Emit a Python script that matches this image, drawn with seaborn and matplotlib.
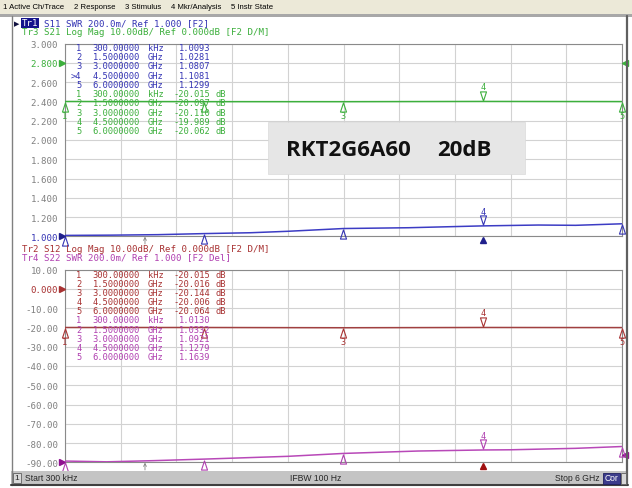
import numpy as np
import matplotlib
matplotlib.use("Agg")
import matplotlib.pyplot as plt
import seaborn as sns
from matplotlib.patches import Rectangle
from matplotlib.lines import Line2D
from matplotlib.path import Path
import matplotlib.transforms as mtransforms

# ---------------- data ----------------
s11_freq = [0.0003, 0.5, 1.0, 1.5, 2.0, 2.4, 3.0, 3.7, 4.5, 5.1, 5.5, 6.0]
s11_swr = [1.0093, 1.012, 1.017, 1.0281, 1.037, 1.052, 1.0807, 1.089, 1.1081, 1.117, 1.114, 1.1299]
s22_freq = [0.0003, 0.45, 0.95, 1.5, 2.4, 3.0, 3.8, 4.5, 4.8, 5.5, 6.0]
s22_swr = [1.0130, 1.005, 1.017, 1.0332, 1.062, 1.0921, 1.117, 1.1279, 1.13, 1.145, 1.1639]
mkr_freq = [0.0003, 1.5, 3.0, 4.5, 6.0]
mkr_freq_txt = ["300.00000", "1.5000000", "3.0000000", "4.5000000", "6.0000000"]
mkr_unit = ["kHz", "GHz", "GHz", "GHz", "GHz"]
s11_mkr = [1.0093, 1.0281, 1.0807, 1.1081, 1.1299]
s21_mkr = [-20.015, -20.097, -20.110, -19.989, -20.062]
s12_mkr = [-20.015, -20.016, -20.144, -20.006, -20.064]
s22_mkr = [1.0130, 1.0332, 1.0921, 1.1279, 1.1639]
upper_ticks = ["3.000", "2.800", "2.600", "2.400", "2.200", "2.000",
               "1.800", "1.600", "1.400", "1.200", "1.000"]
lower_ticks = ["10.00", "0.000", "-10.00", "-20.00", "-30.00", "-40.00",
               "-50.00", "-60.00", "-70.00", "-80.00", "-90.00"]
menu_items = ["1 Active Ch/Trace", "2 Response", "3 Stimulus", "4 Mkr/Analysis", "5 Instr State"]

BLUE = "#3434B4"
BLUE_TR = "#3C3CC4"
GREEN = "#3CAF3C"
DRED = "#A83232"
MAG = "#B040B0"
GREY = "#808080"
MONO = "DejaVu Sans Mono"

sns.set_theme(style="white")
plt.rcParams["font.family"] = ["DejaVu Sans"]

W, H = 632, 489
fig = plt.figure(figsize=(W / 100, H / 100), dpi=100)
fig.patch.set_facecolor("white")


def fx(x):
    return x / W


def fy(y):
    return 1 - y / H


def frect(x0, y0, x1, y1, **kw):
    r = Rectangle((fx(x0), fy(y1)), fx(x1) - fx(x0), fy(y0) - fy(y1),
                  transform=fig.transFigure, **kw)
    fig.patches.append(r)
    return r


def fline(x0, y0, x1, y1, **kw):
    fig.lines.append(Line2D([fx(x0), fx(x1)], [fy(y0), fy(y1)],
                            transform=fig.transFigure, **kw))


# ---------------- chrome ----------------
frect(0, 0, 632, 15, fc="#ECE9D8", ec="none", zorder=-1)
frect(0, 15, 632, 17.5, fc="#A8A8A8", ec="none", zorder=-1)
renderer = fig.canvas.get_renderer()
menu_texts = [fig.text(0, fy(7.5), t, fontsize=5.6, family="Liberation Sans",
                       va="center", ha="left", color="#000000") for t in menu_items]
widths = [t.get_window_extent(renderer).width for t in menu_texts]
gap = (270 - sum(widths)) / (len(widths) - 1)
xcur = 3
for t, w in zip(menu_texts, widths):
    t.set_x(fx(xcur))
    xcur += w + gap

fline(12, 17, 12, 486, color="#808080", lw=1.0)
fline(627, 17, 627, 486, color="#606060", lw=1.6)

# status bar
frect(11, 472, 628, 485, fc="#C4C4C4", ec="none", zorder=1)
fline(11, 486, 628, 486, color="#404040", lw=1.5)
frect(12.5, 473.5, 21, 484, fc="#D8D8D8", ec="#606060", lw=0.6, zorder=2)
fig.text(fx(16.7), fy(479), "1", fontsize=6, family="Liberation Sans",
         ha="center", va="center", zorder=3)
fig.text(fx(25), fy(479), "Start 300 kHz", fontsize=6.2, family="Liberation Sans",
         ha="left", va="center", zorder=3)
fig.text(fx(290), fy(479), "IFBW 100 Hz", fontsize=6.2, family="Liberation Sans",
         ha="left", va="center", zorder=3)
fig.text(fx(555), fy(479), "Stop 6 GHz", fontsize=6.2, family="Liberation Sans",
         ha="left", va="center", zorder=3)
frect(603, 473.5, 619.5, 484.5, fc="#3C3C8C", ec="#202060", lw=0.6, zorder=2)
fig.text(fx(611.2), fy(479), "Cor", fontsize=6.2, family="Liberation Sans",
         ha="center", va="center", color="white", zorder=3)
frect(621, 473.5, 626, 484.5, fc="#D8D8D8", ec="#606060", lw=0.6, zorder=2)

# ---------------- axes ----------------
L, R = 65, 622
AX_H = 192.6
ax1 = fig.add_axes([fx(L), fy(237.3), fx(R) - fx(L), fy(44.7) - fy(237.3)])
ax2 = fig.add_axes([fx(L), fy(463.3), fx(R) - fx(L), fy(270.7) - fy(463.3)])
xgrid = np.linspace(0.0003, 6.0, 11)

for ax, (lo, hi), labels in [(ax1, (1.0, 3.0), upper_ticks), (ax2, (-90, 10), lower_ticks)]:
    ax.set_xlim(0.0003, 6.0)
    ax.set_ylim(lo, hi)
    ax.set_xticks(xgrid)
    ax.set_xticklabels([])
    yt = np.linspace(hi, lo, 11)
    ax.set_yticks(yt)
    ax.set_yticklabels(labels)
    ax.tick_params(length=0, pad=5, labelsize=6.6, labelcolor=GREY)
    for lab in ax.get_yticklabels():
        lab.set_family(MONO)
    ax.grid(True, color="#D2D2D2", lw=0.8)
    ax.set_facecolor("white")
    for s in ax.spines.values():
        s.set_color("#8A8A8A")
        s.set_linewidth(0.8)

# colored ref labels
ax1.get_yticklabels()[1].set_color(GREEN)
ax1.get_yticklabels()[10].set_color(BLUE)
ax2.get_yticklabels()[1].set_color(DRED)

ax1b = ax1.twinx()
ax2b = ax2.twinx()

# traces
sns.lineplot(x=s11_freq, y=s11_swr, ax=ax1, color=BLUE_TR, lw=1.1, zorder=4)
sns.lineplot(x=mkr_freq, y=s21_mkr, ax=ax1b, color=GREEN, lw=1.1, zorder=4)
sns.lineplot(x=mkr_freq, y=s12_mkr, ax=ax2, color="#A04040", lw=1.1, zorder=4)
sns.lineplot(x=s22_freq, y=s22_swr, ax=ax2b, color="#B848B8", lw=1.1, zorder=4)
for a in (ax1, ax1b, ax2, ax2b):
    if a.get_legend():
        a.get_legend().remove()
    a.set_xlabel("")
    a.set_ylabel("")
ax1b.set_xlim(0.0003, 6.0)
ax2b.set_xlim(0.0003, 6.0)
ax1b.set_ylim(-90, 10)
ax2b.set_ylim(1.0, 3.0)
ax1b.axis("off")
ax2b.axis("off")

# ---------------- markers ----------------
up_tri = Path([(-0.33, -0.5), (0.33, -0.5), (0, 0.5), (-0.33, -0.5)],
              [Path.MOVETO, Path.LINETO, Path.LINETO, Path.CLOSEPOLY])
dn_tri = Path([(-0.33, 0.5), (0.33, 0.5), (0, -0.5), (-0.33, 0.5)],
              [Path.MOVETO, Path.LINETO, Path.LINETO, Path.CLOSEPOLY])


def draw_markers(ax, xs, ys, color, active=4, hidden=(2,)):
    lo, hi = ax.get_ylim()
    for i, (x, y) in enumerate(zip(xs, ys), start=1):
        ypx = (y - lo) / (hi - lo) * AX_H
        if i == active:
            tt = mtransforms.offset_copy(ax.transData, y=5.5, units="dots")
            dy = 14.5
            mk = dn_tri
        else:
            tt = mtransforms.offset_copy(ax.transData, y=-5.5, units="dots")
            dy = -14
            mk = up_tri
        ax.plot([x], [y], marker=mk, ms=6.6, mfc="none", mec=color, mew=0.8,
                transform=tt, clip_on=False, zorder=6, ls="none")
        # numbers hidden by the marker table or below the grid are not shown
        if i not in hidden and 4 <= ypx + dy <= AX_H - 4:
            tn = mtransforms.offset_copy(ax.transData, y=dy, units="dots")
            ax.text(x, y, str(i), transform=tn, ha="center", va="center",
                    fontsize=6.2, family=MONO, color=color, zorder=6)


draw_markers(ax1, mkr_freq, s11_mkr, BLUE)
draw_markers(ax1b, mkr_freq, s21_mkr, GREEN)
draw_markers(ax2, mkr_freq, s12_mkr, DRED)
draw_markers(ax2b, mkr_freq, s22_mkr, MAG)


# reference triangles
def ref_tri(ax, xa, y, m, color):
    tr = mtransforms.blended_transform_factory(ax.transAxes, ax.transData)
    ax.plot([xa], [y], marker=m, ms=5, color=color, transform=tr, clip_on=False,
            zorder=7, ls="none")


ref_tri(ax1, -0.006, 2.8, ">", GREEN)
ref_tri(ax1, -0.006, 1.0, ">", "#20208C")
ref_tri(ax1, 1.006, 2.8, "<", GREEN)
ref_tri(ax2, -0.006, 0.0, ">", DRED)
ref_tri(ax2, -0.006, -90.0, ">", "#901090")
ref_tri(ax2, 1.006, -86.0, "<", "#901090")

# active marker indicators & arrows under x axis
for ax, c in [(ax1, "#20208C"), (ax2, "#A01010")]:
    tr = mtransforms.blended_transform_factory(ax.transData, ax.transAxes)
    ax.plot([4.5], [-0.018], marker="^", ms=5, color=c, transform=tr,
            clip_on=False, ls="none", zorder=7)
    ax.annotate("", xy=(0.1436, -0.002), xytext=(0.1436, -0.04),
                xycoords="axes fraction",
                arrowprops=dict(arrowstyle="->", color=GREY, lw=0.6,
                                shrinkA=0, shrinkB=0, mutation_scale=5))

# ---------------- header texts ----------------
CW = 5.46
fig.text(fx(14), fy(24), "\u25B6", fontsize=5, color="#101040", ha="left", va="center")
fig.text(fx(22), fy(24), "Tr1", fontsize=6.6, family=MONO, color="white",
         ha="left", va="center",
         bbox=dict(boxstyle="square,pad=0.1", fc="#14148C", ec="none"))
fig.text(fx(22 + 4 * CW), fy(24), "S11 SWR 200.0m/ Ref 1.000 [F2]",
         fontsize=6.6, family=MONO, color=BLUE, ha="left", va="center")
fig.text(fx(22), fy(32.5), "Tr3 S21 Log Mag 10.00dB/ Ref 0.000dB [F2 D/M]",
         fontsize=6.6, family=MONO, color=GREEN, ha="left", va="center")
fig.text(fx(22), fy(250), "Tr2 S12 Log Mag 10.00dB/ Ref 0.000dB [F2 D/M]",
         fontsize=6.6, family=MONO, color=DRED, ha="left", va="center")
fig.text(fx(22), fy(257.5), "Tr4 S22 SWR 200.0m/ Ref 1.000 [F2 Del]",
         fontsize=6.6, family=MONO, color=MAG, ha="left", va="center")


# ---------------- marker tables ----------------
def table(y0, values, fmt, color, unit_db, active=None):
    for i, v in enumerate(values):
        y = y0 + i * 9.25
        num = (">" if active == i + 1 else "") + str(i + 1)
        kw = dict(fontsize=6.3, family=MONO, color=color, va="center", zorder=8)
        fig.text(fx(81.5), fy(y), num, ha="right", **kw)
        fig.text(fx(92.5), fy(y), mkr_freq_txt[i], ha="left", **kw)
        fig.text(fx(148), fy(y), mkr_unit[i], ha="left", **kw)
        fig.text(fx(210), fy(y), fmt.format(v), ha="right", **kw)
        if unit_db:
            fig.text(fx(216), fy(y), "dB", ha="left", **kw)


table(48.3, s11_mkr, "{:.4f}", BLUE, False, active=4)
table(94.6, s21_mkr, "{:.3f}", GREEN, True)
table(275, s12_mkr, "{:.3f}", DRED, True)
table(321, s22_mkr, "{:.4f}", MAG, False)

# ---------------- title box ----------------
frect(268, 123, 525, 175, fc="#E6E6E6", ec="#DADADA", lw=0.5, zorder=5)
fig.text(fx(286), fy(150), "RKT2G6A60", fontsize=16, family="Open Sans",
         weight="bold", color="#111111", ha="left", va="center", zorder=6)
fig.text(fx(437), fy(150), "20dB", fontsize=16, family="Open Sans",
         weight="bold", color="#111111", ha="left", va="center", zorder=6)

fig.savefig("out.png", dpi=100, facecolor="white")
